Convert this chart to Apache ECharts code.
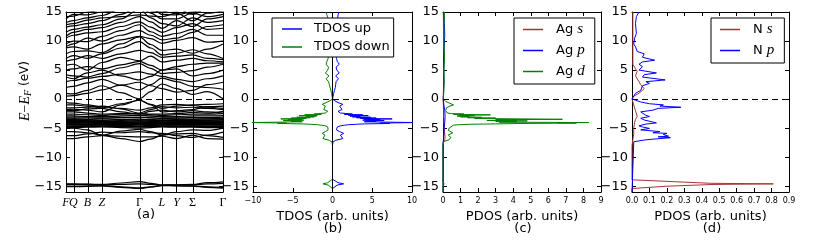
<!DOCTYPE html>
<html><head><meta charset="utf-8">
<script src="https://cdn.jsdelivr.net/npm/echarts@6/dist/echarts.min.js"></script>
<style>html,body{margin:0;padding:0;background:#fff}#c{width:830px;height:241px}</style>
</head><body><div id="c"></div>
<script>
// ---------- data ----------
const energyTicks = [-15, -10, -5, 0, 5, 10, 15];
const kLabels = ['F', 'Q', 'B', 'Z', 'Γ', 'L', 'Y', 'Σ', 'Γ'];
const kPositions = [0, 0.047, 0.136, 0.229, 0.468, 0.611, 0.704, 0.806, 1.0];
// k sample points used for band energies: F,Q,B,Z,(Z-Γ),Γ,(Γ-L),L,Y,Σ,(Σ-Γ),Γ
const kSample = [0, 0.047, 0.136, 0.229, 0.35, 0.468, 0.54, 0.611, 0.704, 0.806, 0.90, 1.0];

const bandsNs = [
  [-14.6, -14.6, -14.65, -14.7, -14.45, -14.2, -14.5, -14.8, -14.75, -14.7, -14.4, -14.25],
  [-14.7, -14.7, -14.7, -14.75, -14.7, -14.6, -14.7, -14.8, -14.8, -14.75, -14.6, -14.5],
  [-15.0, -15.0, -14.95, -14.9, -15.1, -15.3, -15.1, -14.85, -14.9, -14.95, -15.1, -15.2],
  [-15.1, -15.1, -15.05, -14.95, -15.2, -15.4, -15.15, -14.9, -14.95, -15.0, -15.2, -15.35]
];
const bandsNpLow = [
  [-5.0, -5.0, -5.3, -6.2, -5.5, -5.2, -5.6, -6.2, -5.6, -5.3, -5.4, -5.0],
  [-5.6, -5.6, -5.8, -6.2, -6.8, -7.3, -6.9, -6.2, -6.0, -5.9, -6.3, -6.6],
  [-6.3, -6.3, -6.0, -5.7, -5.8, -5.6, -5.8, -5.9, -6.3, -6.6, -6.2, -5.7],
  [-6.8, -6.8, -6.5, -6.3, -6.4, -6.5, -6.5, -6.4, -6.8, -6.2, -6.8, -6.9]
];
const bandsAgD = [
  [-2.6, -2.6, -2.7, -2.85, -2.6, -2.5, -2.7, -2.85, -2.7, -2.6, -2.6, -2.5],
  [-2.9, -2.9, -3.0, -3.1, -2.9, -2.8, -2.9, -3.1, -3.0, -2.9, -2.9, -2.85],
  [-3.1, -3.1, -3.05, -3.0, -3.15, -3.2, -3.1, -3.0, -3.1, -3.15, -3.2, -3.1],
  [-3.3, -3.3, -3.25, -3.3, -3.2, -3.1, -3.25, -3.35, -3.3, -3.25, -3.3, -3.35],
  [-3.45, -3.45, -3.5, -3.4, -3.5, -3.6, -3.5, -3.4, -3.45, -3.5, -3.45, -3.4],
  [-3.55, -3.55, -3.6, -3.65, -3.55, -3.45, -3.6, -3.6, -3.55, -3.6, -3.6, -3.55],
  [-3.65, -3.65, -3.7, -3.75, -3.7, -3.8, -3.7, -3.7, -3.7, -3.65, -3.7, -3.75],
  [-3.75, -3.75, -3.8, -3.85, -3.9, -3.95, -3.9, -3.8, -3.8, -3.85, -3.8, -3.8],
  [-3.85, -3.85, -3.9, -3.95, -3.85, -3.7, -3.85, -3.95, -3.9, -3.95, -3.9, -3.9],
  [-3.95, -3.95, -4.0, -4.05, -4.0, -4.1, -4.0, -4.0, -4.0, -4.0, -4.0, -4.0],
  [-4.05, -4.05, -4.05, -4.1, -4.15, -4.2, -4.1, -4.1, -4.1, -4.1, -4.1, -4.05],
  [-4.15, -4.15, -4.15, -4.2, -4.25, -4.3, -4.25, -4.2, -4.2, -4.2, -4.2, -4.15],
  [-4.25, -4.25, -4.3, -4.3, -4.2, -4.1, -4.2, -4.3, -4.3, -4.3, -4.3, -4.3],
  [-4.35, -4.35, -4.4, -4.4, -4.35, -4.4, -4.35, -4.4, -4.4, -4.4, -4.35, -4.4],
  [-4.45, -4.45, -4.5, -4.5, -4.55, -4.6, -4.55, -4.5, -4.45, -4.5, -4.5, -4.5],
  [-4.6, -4.6, -4.6, -4.65, -4.7, -4.75, -4.7, -4.65, -4.6, -4.6, -4.65, -4.6],
  [-4.75, -4.75, -4.7, -4.7, -4.75, -4.8, -4.75, -4.7, -4.75, -4.7, -4.75, -4.75],
  [-4.9, -4.9, -4.85, -4.8, -4.9, -5.0, -4.9, -4.8, -4.85, -4.85, -4.9, -4.9]
];
const bandsValence = [
  [-1.0, -1.0, -1.2, -1.5, -0.8, -0.2, -0.9, -1.6, -1.2, -1.0, -0.9, -0.8],
  [-1.5, -1.5, -1.4, -1.2, -1.7, -2.4, -1.8, -1.3, -1.5, -1.4, -1.6, -1.8],
  [-1.8, -1.75, -1.9, -2.2, -1.0, -0.2, -1.0, -2.2, -2.0, -1.8, -1.3, -1.2],
  [-2.2, -2.2, -2.4, -2.6, -2.5, -2.5, -2.6, -2.6, -2.5, -2.3, -2.4, -2.1],
  [-0.6, -0.7, -1.0, -1.3, -1.6, -1.9, -1.5, -1.0, -0.9, -1.1, -1.4, -1.6],
  [-2.0, -2.0, -1.7, -1.6, -2.2, -2.6, -2.1, -1.9, -2.2, -2.0, -2.2, -2.4]
];
const bandsConduction = [
  [1.0, 0.9, 1.5, 2.3, 1.1, 0.05, 1.3, 2.6, 1.8, 0.8, 1.3, 0.05],
  [2.0, 2.2, 2.8, 3.4, 2.4, 1.6, 2.5, 3.6, 3.0, 2.2, 2.0, 1.7],
  [3.0, 3.2, 3.6, 3.9, 4.3, 4.7, 4.3, 3.9, 3.4, 3.0, 3.5, 4.0],
  [4.2, 4.0, 3.8, 4.4, 5.4, 6.1, 5.3, 4.4, 4.6, 4.9, 5.5, 6.0],
  [5.0, 5.2, 5.6, 5.2, 5.9, 6.5, 5.8, 5.0, 5.6, 6.0, 6.2, 6.2],
  [5.8, 6.0, 5.0, 6.3, 7.2, 6.6, 7.4, 6.4, 6.7, 7.0, 6.6, 6.4],
  [7.0, 7.5, 7.0, 7.8, 8.8, 9.9, 8.8, 7.6, 7.9, 8.5, 7.8, 7.0],
  [7.8, 8.2, 8.3, 8.0, 9.5, 10.7, 9.4, 8.4, 8.6, 7.9, 8.6, 9.5],
  [8.8, 9.0, 8.6, 9.5, 10.2, 10.8, 10.4, 9.6, 10.1, 10.6, 9.8, 10.0],
  [9.5, 10.0, 9.9, 10.8, 11.8, 12.8, 11.6, 10.8, 11.3, 12.0, 11.0, 11.0],
  [10.5, 11.0, 11.4, 11.6, 12.5, 13.3, 12.4, 11.5, 12.3, 13.0, 12.0, 12.2],
  [11.5, 12.0, 12.4, 12.8, 13.8, 15.5, 14.0, 13.0, 12.6, 14.0, 13.2, 13.5],
  [12.4, 12.6, 13.0, 13.5, 14.6, 16.0, 14.8, 13.8, 13.8, 14.8, 14.2, 14.6],
  [13.2, 13.5, 14.0, 14.4, 15.5, 17.0, 15.8, 14.6, 14.5, 15.0, 15.5, 15.5],
  [14.2, 14.3, 15.0, 15.3, 16.0, 17.0, 16.5, 15.4, 15.2, 16.0, 16.0, 16.0],
  [0.5, 0.6, 1.0, 1.6, 2.4, 2.9, 2.3, 1.8, 1.2, 1.5, 2.5, 2.9],
  [3.8, 3.5, 4.5, 5.0, 4.0, 3.3, 3.9, 5.0, 5.2, 4.0, 4.4, 5.0],
  [6.5, 6.8, 7.5, 7.0, 7.8, 8.4, 8.0, 7.2, 7.4, 7.6, 7.0, 6.8],
  [9.0, 9.5, 10.5, 10.0, 11.0, 11.8, 11.0, 10.2, 10.5, 11.5, 12.5, 12.8],
  [10.8, 11.5, 12.0, 12.3, 13.2, 14.2, 13.3, 12.2, 13.5, 12.5, 13.8, 14.2],
  [12.8, 13.0, 13.6, 14.0, 14.2, 14.5, 14.3, 14.2, 14.8, 13.5, 14.8, 15.2],
  [13.8, 14.6, 14.5, 15.0, 15.3, 16.0, 15.2, 15.0, 15.6, 14.6, 15.6, 16.0]
];

// TDOS as [energy, dos]
const tdosUp = [[15, 0.8], [14.5, 0.7], [14, 0.65], [13.5, 0.55], [13, 0.5], [12.5, 0.5], [12, 0.45], [11.5, 0.45], [11, 0.4], [10.5, 0.45], [10, 0.4], [9.5, 0.35], [9, 0.4], [8.5, 0.35], [8, 0.4], [7.5, 0.45], [7, 0.5], [6.5, 0.6], [6, 0.85], [5.5, 0.45], [5, 0.55], [4.5, 0.85], [4, 0.4], [3.5, 0.75], [3, 0.45], [2.5, 0.4], [2, 0.35], [1.5, 0.25], [1, 0.15], [0.5, 0.08], [0, 0],
  [-0.3, 0.3], [-0.6, 0.7], [-0.9, 1.3], [-1.2, 0.9], [-1.5, 1.0], [-1.8, 1.2], [-2.1, 0.7], [-2.4, 1.0],
  [-2.5, 1.2], [-2.57, 2.5], [-2.64, 1.5], [-2.71, 3.8], [-2.78, 2.0], [-2.85, 4.5], [-2.92, 2.2], [-2.99, 3.5], [-3.06, 2.5], [-3.13, 4.8], [-3.2, 3.0], [-3.27, 5.5], [-3.34, 3.5], [-3.41, 7.5], [-3.48, 4.0], [-3.55, 6.0], [-3.62, 3.8], [-3.69, 6.5], [-3.76, 4.2], [-3.83, 5.5], [-3.9, 4.0], [-3.97, 7.0], [-4.04, 10.5], [-4.08, 10.5], [-4.13, 6.0], [-4.2, 7.2], [-4.27, 4.0], [-4.34, 3.0], [-4.41, 2.0], [-4.5, 1.5], [-4.6, 1.0],
  [-4.8, 0.6], [-5.0, 0.5], [-5.3, 0.5], [-5.6, 0.9], [-5.9, 1.4], [-6.2, 1.0], [-6.5, 0.9], [-6.8, 1.3], [-7.1, 0.4], [-7.4, 0.05],
  [-8, 0], [-10, 0], [-12, 0],
  [-13.8, 0], [-14.1, 0.25], [-14.4, 0.7], [-14.6, 1.4], [-14.8, 0.6], [-15.1, 0.5], [-15.4, 0], [-16, 0]];
const tdosDown = [[15, -0.85], [14.5, -0.7], [14, -0.6], [13.5, -0.55], [13, -0.5], [12.5, -0.45], [12, -0.45], [11.5, -0.4], [11, -0.45], [10.5, -0.4], [10, -0.4], [9.5, -0.35], [9, -0.4], [8.5, -0.4], [8, -0.35], [7.5, -0.5], [7, -0.55], [6.5, -0.7], [6, -0.8], [5.5, -0.5], [5, -0.6], [4.5, -0.9], [4, -0.45], [3.5, -0.8], [3, -0.5], [2.5, -0.4], [2, -0.3], [1.5, -0.2], [1, -0.12], [0.5, -0.05], [0, 0],
  [-0.3, -0.35], [-0.6, -0.8], [-0.9, -1.3], [-1.2, -0.9], [-1.5, -0.8], [-1.8, -1.1], [-2.1, -0.6], [-2.4, -0.9],
  [-2.5, -1.1], [-2.57, -2.3], [-2.64, -1.4], [-2.71, -3.5], [-2.78, -1.9], [-2.85, -4.2], [-2.92, -2.0], [-2.99, -3.3], [-3.06, -2.3], [-3.13, -4.5], [-3.2, -2.8], [-3.27, -5.2], [-3.34, -3.3], [-3.41, -6.5], [-3.48, -3.8], [-3.55, -5.6], [-3.62, -3.6], [-3.69, -6.2], [-3.76, -4.0], [-3.83, -5.2], [-3.9, -3.8], [-3.97, -6.6], [-4.04, -10.5], [-4.08, -10.5], [-4.13, -5.8], [-4.2, -6.9], [-4.27, -3.8], [-4.34, -2.8], [-4.41, -1.9], [-4.5, -1.4], [-4.6, -0.9],
  [-4.8, -0.6], [-5.0, -0.5], [-5.3, -0.55], [-5.6, -0.9], [-5.9, -1.3], [-6.2, -0.95], [-6.5, -0.9], [-6.8, -1.2], [-7.1, -0.4], [-7.4, -0.05],
  [-8, 0], [-10, 0], [-12, 0],
  [-13.8, 0], [-14.1, -0.25], [-14.4, -0.6], [-14.6, -1.2], [-14.8, -0.55], [-15.1, -0.45], [-15.4, 0], [-16, 0]];

// PDOS as [energy, pdos]
const agS = [[15, 0.02], [12, 0.03], [9, 0.03], [7, 0.06], [6.7, 0.15], [6, 0.05], [4, 0.04], [2, 0.03], [0, 0.01], [-2, 0.03], [-4, 0.05], [-5.5, 0.08], [-6.5, 0.12], [-7, 0.1], [-7.4, 0.02], [-8, 0], [-14.2, 0], [-14.6, 0.06], [-15, 0], [-16, 0]];
const agP = [[15, 0.05], [13, 0.08], [11, 0.1], [9, 0.07], [7, 0.05], [5, 0.04], [3, 0.05], [1, 0.03], [0, 0.01], [-1, 0.05], [-2, 0.1], [-3, 0.12], [-4, 0.1], [-5, 0.06], [-6, 0.05], [-7, 0.03], [-7.5, 0], [-16, 0]];
const agD = [[15, 0.08], [13, 0.06], [11, 0.05], [9, 0.06], [7, 0.08], [5, 0.05], [3, 0.07], [1, 0.04], [0, 0.02], [-0.4, 0.15], [-0.8, 0.45], [-1.0, 0.6], [-1.2, 0.4], [-1.5, 0.2], [-2.0, 0.15], [-2.4, 0.25],
  [-2.5, 0.5], [-2.57, 1.2], [-2.64, 0.6], [-2.71, 2.7], [-2.78, 0.9], [-2.85, 1.8], [-2.92, 0.8], [-2.99, 1.5], [-3.06, 1.0], [-3.13, 2.2], [-3.2, 1.4], [-3.27, 3.0], [-3.34, 1.8], [-3.41, 4.5], [-3.48, 6.8], [-3.55, 3.0], [-3.62, 4.2], [-3.69, 2.5], [-3.76, 4.8], [-3.83, 3.0], [-3.9, 4.2], [-3.97, 3.2], [-4.04, 8.3], [-4.08, 6.5], [-4.13, 7.6], [-4.2, 4.5], [-4.27, 3.0], [-4.34, 1.5], [-4.41, 0.9], [-4.5, 0.6], [-4.7, 0.5],
  [-5.0, 0.35], [-5.4, 0.3], [-5.8, 0.55], [-6.2, 0.3], [-6.6, 0.45], [-7.0, 0.35], [-7.3, 0.05], [-8, 0], [-16, 0]];
const nS = [[15, 0.005], [10, 0.005], [6, 0.005], [5.2, 0.02], [4.8, 0.03], [4, 0.02], [3, 0.04], [2.5, 0.05], [1.8, 0.07], [1.5, 0.06], [1, 0.04], [0.5, 0.01], [0, 0], [-1, 0.01], [-2, 0.02], [-3, 0.03], [-3.5, 0.02], [-4, 0.015], [-5, 0.01], [-6, 0.01], [-7, 0.005], [-8, 0], [-13.9, 0], [-14.3, 0.3], [-14.5, 0.45], [-14.6, 0.81], [-14.7, 0.47], [-15.0, 0.2], [-15.4, 0], [-16, 0]];
const nP = [[15, 0.04], [14.9, 0.044], [14.2, 0.025], [13, 0.02], [11.3, 0.025], [10.5, 0.015], [9.5, 0.01], [9, 0.02], [8.2, 0.03], [7.8, 0.07], [7.2, 0.06], [6.7, 0.13], [6.4, 0.06], [6.0, 0.04], [5.6, 0.06], [5.0, 0.04], [4.5, 0.14], [4.2, 0.07], [3.8, 0.06], [3.3, 0.19], [3.0, 0.08], [2.7, 0.1], [2.3, 0.06], [2.0, 0.07], [1.5, 0.05], [1.0, 0.02], [0.5, 0.01], [0.1, 0.0], [-0.2, 0.02], [-0.5, 0.05], [-0.8, 0.1], [-1.0, 0.18], [-1.2, 0.16], [-1.4, 0.28], [-1.6, 0.15], [-1.9, 0.12], [-2.2, 0.05], [-2.5, 0.04], [-2.8, 0.08], [-3.0, 0.1], [-3.3, 0.05], [-3.6, 0.07], [-3.9, 0.06], [-4.1, 0.14], [-4.3, 0.08], [-4.6, 0.04], [-4.8, 0.06], [-5.05, 0.1], [-5.3, 0.05], [-5.6, 0.16], [-5.8, 0.12], [-5.9, 0.2], [-6.1, 0.18], [-6.4, 0.21], [-6.5, 0.15], [-6.65, 0.22], [-6.9, 0.12], [-7.05, 0.07], [-7.35, 0.01], [-7.6, 0], [-16, 0]];

// ---------- chart ----------
const BLUE = '#0000ff', GREEN = '#008000', RED = '#a83232';
const SANS = 'DejaVu Sans', SERIF = 'Liberation Serif';
const grids = [
  { left: 66, top: 12, width: 157, height: 180 },
  { left: 253, top: 12, width: 159, height: 180 },
  { left: 443, top: 12, width: 158, height: 180 },
  { left: 632, top: 12, width: 157, height: 180 }
];
const fmtE = v => (v < 0 ? '\u2212' + (-v) : String(v));
const fmtX = v => (v < 0 ? '\u2212' + (-v) : String(v));
const axisLine = { show: true, onZero: false, lineStyle: { color: '#000', width: 1 } };
const kRich = { i: { fontFamily: SERIF, fontStyle: 'italic', fontSize: 12, color: '#000' }, u: { fontFamily: SERIF, fontSize: 12, color: '#000' } };
const kFmt = (v) => { let bi = 0, bd = 9; kPositions.forEach((k, j) => { if (Math.abs(k - v) < bd) { bd = Math.abs(k - v); bi = j; } });
  const t = kLabels[bi]; return (t === 'Γ' || t === 'Σ') ? '{u|' + t + '}' : '{i|' + t + '}'; };

const xAxes = [], yAxes = [];
const xSpecs = [
  null,
  { min: -10, max: 10, interval: 5, name: 'TDOS (arb. units)', fmt: fmtX },
  { min: 0, max: 9, interval: 1, name: 'PDOS (arb. units)', fmt: fmtX },
  { min: 0, max: 0.9, interval: 0.1, name: 'PDOS (arb. units)', fmt: v => v.toFixed(1) }
];
grids.forEach((g, i) => {
  const s = xSpecs[i];
  if (i === 0) {
    xAxes.push({ gridIndex: 0, type: 'value', min: 0, max: 1, position: 'bottom', axisLine, splitLine: { show: false },
      axisTick: { show: false },
      axisLabel: { customValues: kPositions.filter((k, j) => j !== 1), margin: 5, hideOverlap: false, formatter: kFmt, rich: kRich } });
    xAxes.push({ gridIndex: 0, type: 'value', min: 0, max: 1, position: 'top', axisLine, splitLine: { show: false }, axisTick: { show: false }, axisLabel: { show: false } });
  } else {
    xAxes.push({ gridIndex: i, type: 'value', min: s.min, max: s.max, interval: s.interval, position: 'bottom', axisLine, splitLine: { show: false },
      axisTick: { show: true, inside: true, length: 4, lineStyle: { color: '#000' } },
      axisLabel: { fontSize: 8, fontFamily: SANS, color: '#000', margin: 5, formatter: s.fmt, showMinLabel: true, showMaxLabel: true },
      name: s.name, nameLocation: 'middle', nameGap: 13, nameTextStyle: { fontSize: 13, fontFamily: SANS, color: '#000' } });
    xAxes.push({ gridIndex: i, type: 'value', min: s.min, max: s.max, interval: s.interval, position: 'top', axisLine, splitLine: { show: false },
      axisTick: { show: true, inside: true, length: 4, lineStyle: { color: '#000' } }, axisLabel: { show: false } });
  }
  yAxes.push({ gridIndex: i, type: 'value', min: -16, max: 15, position: 'left', axisLine, splitLine: { show: false },
    axisTick: { show: true, inside: true, length: 4, customValues: energyTicks, lineStyle: { color: '#000' } },
    axisLabel: { customValues: energyTicks, formatter: fmtE, fontSize: 13, fontFamily: SANS, color: '#000', margin: 4 } });
  yAxes.push({ gridIndex: i, type: 'value', min: -16, max: 15, position: 'right', axisLine, splitLine: { show: false },
    axisTick: { show: true, inside: true, length: 4, customValues: energyTicks, lineStyle: { color: '#000' } },
    axisLabel: { show: false } });
});
// extra bottom axis in panel (a) carrying only the Q label (too close to F for one axis)
xAxes.push({ gridIndex: 0, type: 'value', min: 0, max: 1, position: 'bottom', offset: 0, axisLine: { show: false }, splitLine: { show: false },
  axisTick: { show: false }, axisLabel: { customValues: [kPositions[1]], margin: 5, formatter: kFmt, rich: kRich } });

const zeroLine = { yAxis: 0, lineStyle: { type: [6, 4], color: '#000', width: 1 } };
const mlBase = { silent: true, symbol: 'none', label: { show: false }, animation: false };

const series = [];
const allBands = [].concat(bandsNs, bandsNpLow, bandsAgD, bandsValence, bandsConduction);
allBands.forEach((b, i) => {
  const s = { type: 'line', xAxisIndex: 0, yAxisIndex: 0, data: b.map((e, j) => [kSample[j], e]),
    symbol: 'none', smooth: 0.35, smoothMonotone: 'x', color: '#000', lineStyle: { color: '#000', width: 1.2 }, silent: true, z: 2 };
  if (i === 0) s.markLine = Object.assign({}, mlBase, { data: kPositions.slice(1, -1).map(k => ({ xAxis: k, lineStyle: { type: 'solid', color: '#000', width: 1 } })).concat([zeroLine]) });
  series.push(s);
});

const dosLine = (name, color, gi, data) => ({ name, type: 'line', xAxisIndex: gi * 2, yAxisIndex: gi * 2, data, symbol: 'none', color,
  lineStyle: { color, width: 1 }, silent: true, z: 3 });
const flip = arr => arr.map(p => [p[1], p[0]]);

const sUp = dosLine('TDOS up', BLUE, 1, flip(tdosUp));
sUp.markLine = Object.assign({}, mlBase, { data: [{ xAxis: 0, lineStyle: { type: 'solid', color: '#000', width: 1 } }, zeroLine] });
series.push(sUp);
series.push(dosLine('TDOS down', GREEN, 1, flip(tdosDown)));

const sAgS = dosLine('Ag s', RED, 2, flip(agS));
sAgS.markLine = Object.assign({}, mlBase, { data: [zeroLine] });
series.push(sAgS);
series.push(dosLine('Ag p', BLUE, 2, flip(agP)));
series.push(dosLine('Ag d', GREEN, 2, flip(agD)));

const sNS = dosLine('N s', RED, 3, flip(nS));
sNS.markLine = Object.assign({}, mlBase, { data: [zeroLine] });
series.push(sNS);
series.push(dosLine('N p', BLUE, 3, flip(nP)));

const legendBase = { orient: 'vertical', icon: 'rect', itemWidth: 20, itemHeight: 1.5, borderColor: '#000', borderWidth: 1,
  backgroundColor: '#fff', selectedMode: false, z: 10 };
const richLeg = { n: { fontSize: 13, fontFamily: SANS, color: '#000' }, m: { fontSize: 15, fontFamily: SERIF, fontStyle: 'italic', color: '#000' } };
const legFmt = name => { const p = name.split(' '); return '{n|' + p[0] + ' }{m|' + p[1] + '}'; };
const legends = [
  Object.assign({}, legendBase, { data: ['TDOS up', 'TDOS down'], left: 272, top: 18, padding: [4, 4, 3, 10], itemGap: 4,
    textStyle: { fontSize: 13, fontFamily: SANS, color: '#000', lineHeight: 14, padding: [0, 0, 0, 7] } }),
  Object.assign({}, legendBase, { data: ['Ag s', 'Ag p', 'Ag d'], left: 514, top: 18, padding: [4, 10, 5, 9], itemGap: 6, formatter: legFmt,
    textStyle: { fontSize: 13, fontFamily: SANS, color: '#000', lineHeight: 14, padding: [0, 0, 0, 8], rich: richLeg } }),
  Object.assign({}, legendBase, { data: ['N s', 'N p'], left: 711, top: 18, padding: [4, 10, 5, 9], itemGap: 6, formatter: legFmt,
    textStyle: { fontSize: 13, fontFamily: SANS, color: '#000', lineHeight: 14, padding: [0, 0, 0, 8], rich: richLeg } })
];

const panelLabel = (t, x, y) => ({ type: 'text', x, y, style: { text: t, fontSize: 13, fontFamily: SANS, fill: '#000', align: 'center', verticalAlign: 'middle' } });
const graphic = [
  panelLabel('(a)', 146, 215), panelLabel('(b)', 333, 229), panelLabel('(c)', 523, 229), panelLabel('(d)', 712, 229),
  { type: 'text', x: 25, y: 91, rotation: Math.PI / 2, style: {
    text: '{e|E}{m|\u2212}{e|E}{s|F}{n| (eV)}', align: 'center', verticalAlign: 'middle', fill: '#000',
    rich: { e: { fontFamily: SERIF, fontStyle: 'italic', fontSize: 14, lineHeight: 16 },
            m: { fontFamily: SERIF, fontSize: 14, lineHeight: 16 },
            s: { fontFamily: SERIF, fontStyle: 'italic', fontSize: 10, lineHeight: 16, padding: [6, 0, 0, 0] },
            n: { fontFamily: SANS, fontSize: 12, lineHeight: 16 } } } }
];

const chart = echarts.init(document.getElementById('c'), null, { renderer: 'canvas' });
chart.setOption({ backgroundColor: '#fff', animation: false, grid: grids, xAxis: xAxes, yAxis: yAxes, legend: legends, series, graphic });
</script></body></html>
